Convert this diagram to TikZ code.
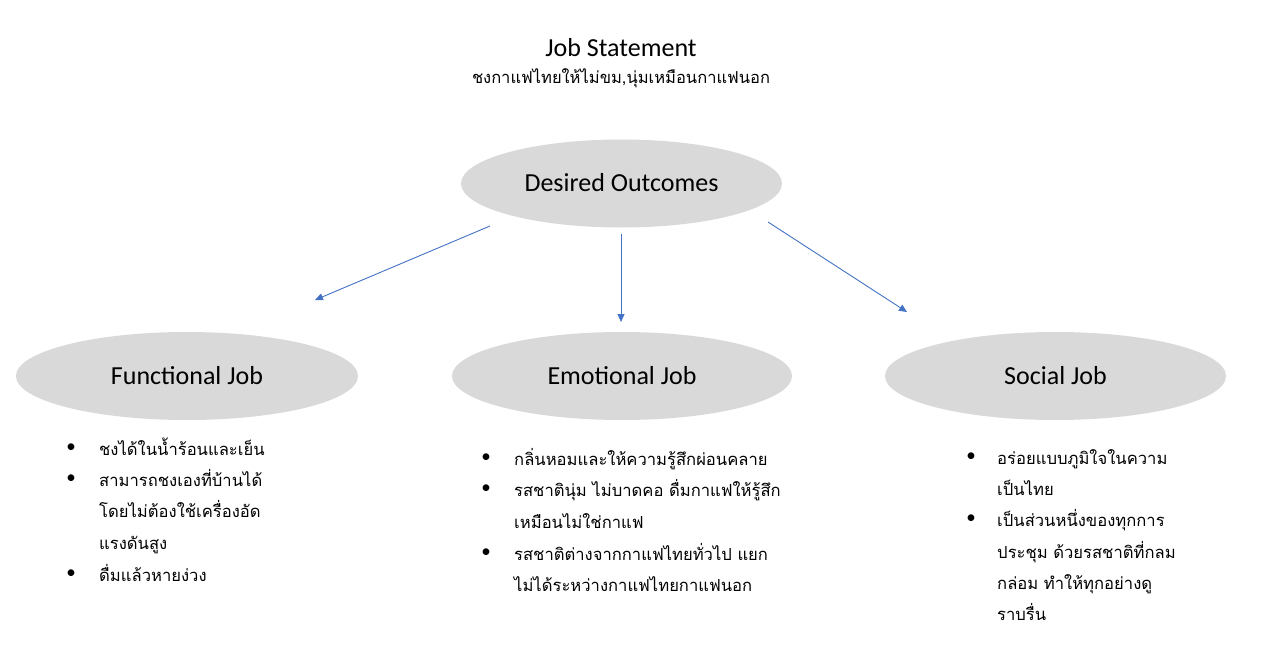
\documentclass[tikz,border=0pt]{standalone}
\usepackage{fontspec}
\setmainfont{Carlito}
\newfontfamily\thaifont[Script=Thai]{Loma}
\usetikzlibrary{shapes.geometric,arrows.meta}
\definecolor{ellfill}{HTML}{D9D9D9}
\definecolor{arrblue}{HTML}{4472C4}
\begin{document}
\begin{tikzpicture}[x=1pt,y=-1pt,
  ell/.style={ellipse, fill=ellfill, inner sep=0pt, minimum height=88pt,
    font=\fontsize{26}{30}\selectfont, text height=16.5pt, text depth=0pt},
  arr/.style={draw=arrblue, line width=0.9pt, -{Triangle[length=8pt,width=7pt]}},
  bul/.style={anchor=base, inner sep=0pt, font=\fontsize{19}{20}\selectfont},
  ln/.style={anchor=base west, inner sep=0pt, font=\thaifont\fontsize{16.6}{20}\selectfont},
  ttl/.style={anchor=base, inner sep=0pt, font=\fontsize{26}{30}\selectfont},
  subttl/.style={anchor=base, inner sep=0pt, font=\thaifont\fontsize{16.5}{20}\selectfont}]
\useasboundingbox (0,0) rectangle (1287,658);
\fill[white] (0,0) rectangle (1287,658);

\node[ttl] (title) at (621,57) {Job Statement};
\node[subttl] (subtitle) at (621,84) {ชงกาแฟไทยให้ไม่ขม,นุ่มเหมือนกาแฟนอก};

\node[ell, minimum width=321pt] (do) at (621.5,183.5) {Desired Outcomes};
\node[ell, minimum width=342pt] (fj) at (187,376) {Functional Job};
\node[ell, minimum width=340pt] (ej) at (622,376) {Emotional Job};
\node[ell, minimum width=341pt] (sj) at (1055.5,376) {Social Job};

\coordinate (a1s) at (490,226); \coordinate (a1e) at (315,300);
\coordinate (a2s) at (621,234); \coordinate (a2e) at (621,322);
\coordinate (a3s) at (768,222); \coordinate (a3e) at (907,312);
\draw[arr] (a1s) -- (a1e);
\draw[arr] (a2s) -- (a2e);
\draw[arr] (a3s) -- (a3e);

% Functional
\node[bul] (fb1) at (71,452) {•};
\node[ln] (f1) at (99,455) {ชงได้ในน้ำร้อนและเย็น};
\node[bul] (fb2) at (71,483) {•};
\node[ln] (f2) at (99,486) {สามารถชงเองที่บ้านได้};
\node[ln] (f3) at (99,517.5) {โดยไม่ต้องใช้เครื่องอัด};
\node[ln] (f4) at (99,549) {แรงดันสูง};
\node[bul] (fb3) at (71,578) {•};
\node[ln] (f5) at (99,581) {ดื่มแล้วหายง่วง};

% Emotional
\node[bul] (eb1) at (486,462) {•};
\node[ln] (e1) at (514,465) {กลิ่นหอมและให้ความรู้สึกผ่อนคลาย};
\node[bul] (eb2) at (486,493) {•};
\node[ln] (e2) at (514,496) {รสชาตินุ่ม ไม่บาดคอ ดื่มกาแฟให้รู้สึก};
\node[ln] (e3) at (514,528) {เหมือนไม่ใช่กาแฟ};
\node[bul] (eb3) at (486,557) {•};
\node[ln] (e4) at (514,560) {รสชาติต่างจากกาแฟไทยทั่วไป แยก};
\node[ln] (e5) at (514,591) {ไม่ได้ระหว่างกาแฟไทยกาแฟนอก};

% Social
\node[bul] (sb1) at (971,461) {•};
\node[ln] (s1) at (997,464) {อร่อยแบบภูมิใจในความ};
\node[ln] (s2) at (997,495) {เป็นไทย};
\node[bul] (sb2) at (971,523) {•};
\node[ln] (s3) at (997,526) {เป็นส่วนหนึ่งของทุกการ};
\node[ln] (s4) at (997,558) {ประชุม ด้วยรสชาติที่กลม};
\node[ln] (s5) at (997,589) {กล่อม ทำให้ทุกอย่างดู};
\node[ln] (s6) at (997,620) {ราบรื่น};
\end{tikzpicture}
\end{document}
